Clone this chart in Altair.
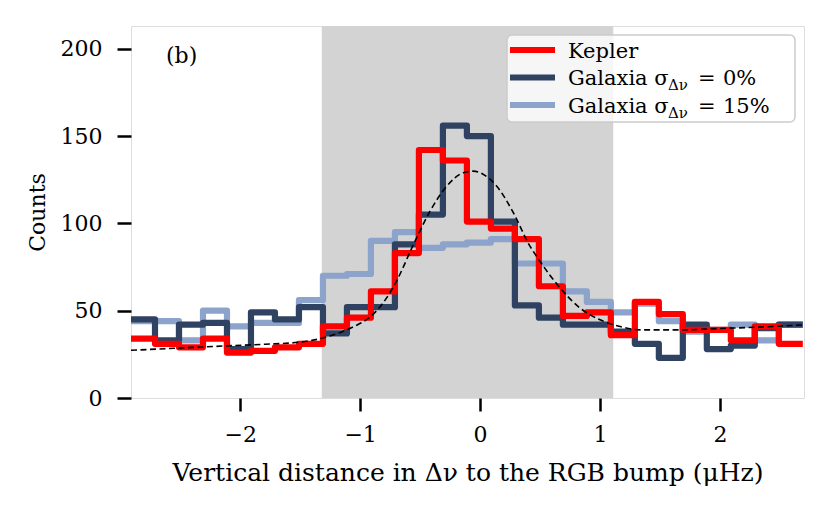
import altair as alt
import pandas as pd

# ---- data ----
bin_start = -2.91
bin_width = 0.2
n_bins = 28

kepler = [34, 31, 29, 34, 26, 27, 29, 31, 41, 46, 61, 83, 142, 136,
          101, 97, 91, 64, 47, 49, 36, 55, 48, 39, 39, 33, 41, 31]
gal0 = [45, 33, 42, 43, 28, 49, 45, 52, 37, 52, 52, 88, 105, 156,
        150, 101, 53, 46, 42, 42, 38, 31, 23, 42, 28, 30, 40, 42]
gal15 = [44, 44, 33, 50, 41, 43, 43, 56, 70, 71, 90, 95, 86, 88,
         89, 91, 77, 77, 61, 55, 49, 54, 44, 38, 39, 42, 33, 42]

fit_x = [-2.91, -2.06, -1.79, -1.50, -1.32, -1.15, -1.04, -0.93, -0.82, -0.70,
         -0.556, -0.417, -0.278, -0.139, -0.056, 0.028, 0.139, 0.278, 0.407,
         0.50, 0.667, 0.833, 1.0, 1.167, 1.333, 1.667, 2.0, 2.333, 2.70]
fit_y = [27.3, 30.0, 30.8, 32.0, 34.2, 38.0, 41.3, 45.7, 53.4, 66.5,
         87.8, 107.0, 121.3, 129.0, 129.9, 128.0, 121.3, 106.0, 88.0,
         78.2, 63.0, 51.5, 44.8, 40.9, 39.0, 39.0, 39.8, 40.6, 41.9]

shade = [-1.32, 1.11]
x_ticks = [-2, -1, 0, 1, 2]
y_ticks = [0, 50, 100, 150, 200]
x_domain = [-2.91, 2.70]
y_domain = [0, 213]

series_names = ["Kepler", "Galaxia 0", "Galaxia 15"]
series_colors = ["#FF0000", "#2F4262", "#8CA3CC"]
legend_main = ["Kepler", "Galaxia σ", "Galaxia σ"]
legend_pct = ["", "0%", "15%"]

FONT = "DejaVu Serif"
W, H = 673, 372

edges = [bin_start + bin_width * k for k in range(n_bins + 1)]


def step_df(vals, name):
    return pd.DataFrame({"x": edges, "y": list(vals) + [vals[-1]], "s": name})


xs = alt.Scale(domain=x_domain, nice=False, zero=False)
ys = alt.Scale(domain=y_domain, nice=False, zero=False)

xaxis = alt.Axis(values=x_ticks, title="Vertical distance in Δν to the RGB bump (μHz)",
                 grid=False, domain=False, tickSize=13, tickWidth=2.5, tickColor="black",
                 labelPadding=13, labelFontSize=22, labelFont=FONT, labelColor="black",
                 titleFont=FONT, titleFontSize=25, titleFontWeight="normal",
                 titleColor="black", titleBaseline="alphabetic", titleY=82, format="d")
yaxis = alt.Axis(values=y_ticks, title="Counts", grid=False, domain=False,
                 tickSize=14, tickWidth=2.5, tickColor="black", labelPadding=15,
                 labelFontSize=22, labelFont=FONT, labelColor="black",
                 titleFont=FONT, titleFontSize=22, titleFontWeight="normal",
                 titleColor="black", titleBaseline="alphabetic", titleX=-87, format="d")

shade_df = pd.DataFrame({"x": [shade[0]], "x2": [shade[1]]})
band = alt.Chart(shade_df).mark_rect(color="#D3D3D3").encode(
    x=alt.X("x:Q", scale=xs, axis=xaxis), x2="x2:Q",
    y=alt.value(0), y2=alt.value(H))

layers = [band]
for vals, name, col in reversed(list(zip([kepler, gal0, gal15], series_names, series_colors))):
    layers.append(
        alt.Chart(step_df(vals, name)).mark_line(
            interpolate="step-after", color=col, strokeWidth=6.2,
            strokeJoin="round", strokeCap="butt", clip=True
        ).encode(x=alt.X("x:Q", scale=xs), y=alt.Y("y:Q", scale=ys, axis=yaxis))
    )

fit_df = pd.DataFrame({"x": fit_x, "y": fit_y})
layers.append(
    alt.Chart(fit_df).mark_line(color="black", strokeWidth=1.6, strokeDash=[6, 3.5],
                                interpolate="monotone", clip=True).encode(
        x=alt.X("x:Q", scale=xs), y=alt.Y("y:Q", scale=ys))
)

# legend box
one = pd.DataFrame({"a": [0]})
layers.append(
    alt.Chart(one).mark_rect(fill="white", fillOpacity=0.8, stroke="#CCCCCC",
                             strokeWidth=1.5, cornerRadius=5).encode(
        x=alt.value(376), x2=alt.value(664), y=alt.value(9), y2=alt.value(96))
)
row_y = [24, 51.5, 79]
for i in range(3):
    layers.append(alt.Chart(one).mark_rule(color=series_colors[i], strokeWidth=6.2).encode(
        x=alt.value(379), x2=alt.value(424), y=alt.value(row_y[i])))
    layers.append(alt.Chart(one).mark_text(text=legend_main[i], font=FONT, fontSize=21,
                                           align="left", baseline="alphabetic",
                                           color="black").encode(
        x=alt.value(437), y=alt.value(row_y[i] + 7.5)))
    if legend_pct[i]:
        layers.append(alt.Chart(one).mark_text(text="Δν", font=FONT, fontSize=15,
                                               align="left", baseline="alphabetic",
                                               color="black").encode(
            x=alt.value(537), y=alt.value(row_y[i] + 12.5)))
        layers.append(alt.Chart(one).mark_text(text="=", font=FONT, fontSize=21,
                                               align="left", baseline="alphabetic",
                                               color="black").encode(
            x=alt.value(567), y=alt.value(row_y[i] + 7.5)))
        layers.append(alt.Chart(one).mark_text(text=legend_pct[i], font=FONT, fontSize=21,
                                               align="left", baseline="alphabetic",
                                               color="black").encode(
            x=alt.value(592), y=alt.value(row_y[i] + 7.5)))

layers.append(alt.Chart(one).mark_text(text="(b)", font=FONT, fontSize=22, align="left",
                                       baseline="alphabetic", color="black").encode(
    x=alt.value(35), y=alt.value(37)))

chart = alt.layer(*layers).properties(
    width=W, height=H,
    autosize=alt.AutoSizeParams(type="none"),
    padding={"left": 123, "top": 18, "right": 18, "bottom": 100},
).configure_view(stroke="black", strokeWidth=2.5).configure(background="white")

chart.save("out.html", embed_options={"renderer": "svg", "actions": False})
